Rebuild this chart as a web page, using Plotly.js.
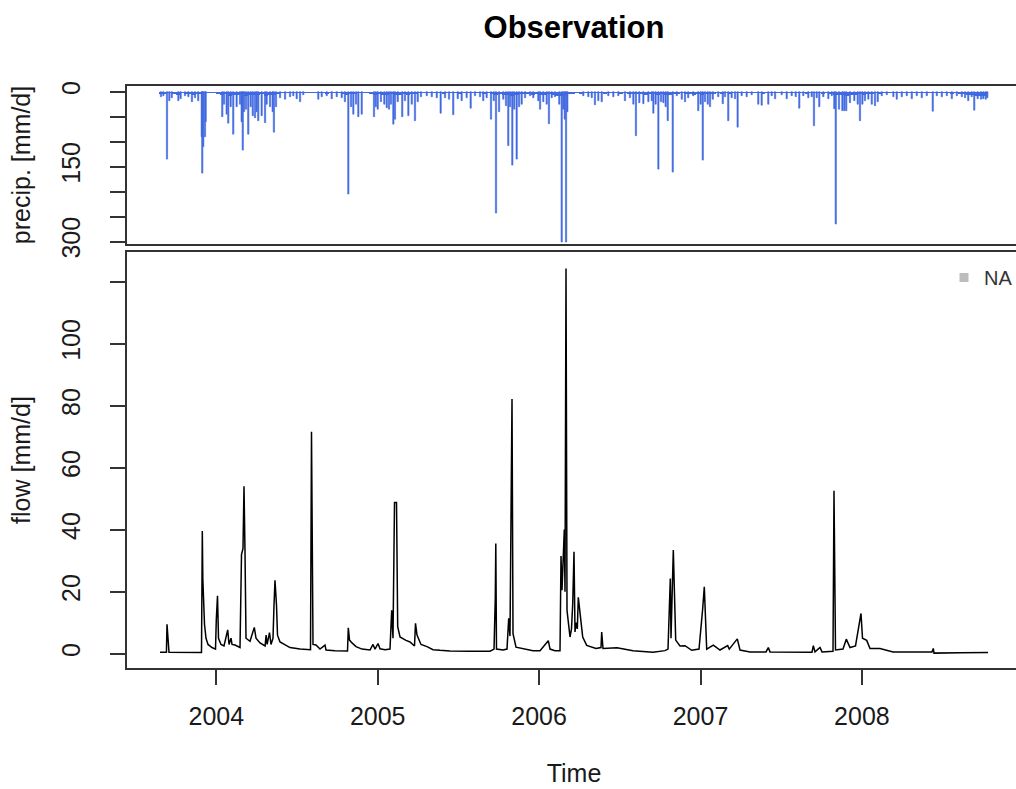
<!DOCTYPE html>
<html>
<head>
<meta charset="utf-8">
<script src="https://cdn.plot.ly/plotly-3.0.1.min.js"></script>
<style>
  html, body { margin: 0; padding: 0; overflow: hidden; background: #fff; }
  #chart { width: 1024px; height: 789px; }
</style>
</head>
<body>
<div id="chart"></div>
<script>
// ---- Data (time in decimal years, as in an R ts plot) ----
// Larger daily precipitation events [mm/d]
const precipTime = [
  2003.657, 2003.672, 2003.6945, 2003.709, 2003.724, 2003.765, 2003.779, 2003.806, 2003.827, 2003.849,
  2003.868, 2003.888, 2003.910, 2003.913, 2003.919, 2003.930, 2003.934, 2004.037, 2004.048, 2004.064,
  2004.074, 2004.089, 2004.105, 2004.126, 2004.147, 2004.157, 2004.164, 2004.172, 2004.184, 2004.198,
  2004.213, 2004.226, 2004.240, 2004.250, 2004.260, 2004.281, 2004.302, 2004.312, 2004.333, 2004.349,
  2004.357, 2004.370, 2004.395, 2004.426, 2004.457, 2004.477, 2004.498, 2004.519, 2004.539, 2004.632,
  2004.653, 2004.684, 2004.715, 2004.746, 2004.777, 2004.797, 2004.818, 2004.835, 2004.849, 2004.866,
  2004.880, 2004.901, 2004.977, 2004.988, 2005.000, 2005.020, 2005.041, 2005.056, 2005.070, 2005.082,
  2005.097, 2005.107, 2005.124, 2005.152, 2005.169, 2005.190, 2005.211, 2005.231, 2005.248, 2005.268,
  2005.304, 2005.335, 2005.366, 2005.390, 2005.417, 2005.442, 2005.468, 2005.496, 2005.520, 2005.551,
  2005.576, 2005.603, 2005.634, 2005.654, 2005.675, 2005.702, 2005.719, 2005.733, 2005.752, 2005.778,
  2005.795, 2005.809, 2005.820, 2005.834, 2005.846, 2005.861, 2005.876, 2005.892, 2005.913, 2005.944,
  2005.964, 2005.995, 2006.006, 2006.026, 2006.047, 2006.061, 2006.078, 2006.098, 2006.125, 2006.140,
  2006.150, 2006.159, 2006.167, 2006.175, 2006.274, 2006.305, 2006.326, 2006.346, 2006.367, 2006.388,
  2006.429, 2006.460, 2006.491, 2006.532, 2006.563, 2006.584, 2006.600, 2006.621, 2006.646, 2006.677,
  2006.698, 2006.708, 2006.722, 2006.739, 2006.755, 2006.770, 2006.784, 2006.797, 2006.828, 2006.853,
  2006.884, 2006.904, 2006.924, 2006.955, 2006.986, 2007.001, 2007.014, 2007.028, 2007.045, 2007.059,
  2007.076, 2007.110, 2007.138, 2007.152, 2007.172, 2007.193, 2007.214, 2007.230, 2007.255, 2007.286,
  2007.317, 2007.358, 2007.379, 2007.420, 2007.441, 2007.462, 2007.503, 2007.534, 2007.565, 2007.590,
  2007.612, 2007.637, 2007.668, 2007.689, 2007.703, 2007.720, 2007.736, 2007.761, 2007.792, 2007.813,
  2007.829, 2007.838, 2007.858, 2007.879, 2007.891, 2007.903, 2007.926, 2007.953, 2007.974, 2007.988,
  2008.003, 2008.019, 2008.040, 2008.061, 2008.081, 2008.098, 2008.123, 2008.154, 2008.195, 2008.216,
  2008.247, 2008.278, 2008.309, 2008.340, 2008.371, 2008.402, 2008.439, 2008.464, 2008.495, 2008.526,
  2008.557, 2008.588, 2008.619, 2008.639, 2008.659, 2008.680, 2008.696, 2008.717, 2008.738, 2008.752,
  2008.767, 2008.777
];
const precipMm = [
  10, 8, 135, 18, 12, 18, 14, 8, 10, 20,
  12, 18, 90, 163, 110, 90, 60, 50, 25, 45,
  63, 30, 85, 30, 25, 60, 117, 40, 35, 85,
  30, 48, 52, 40, 58, 48, 62, 25, 30, 40,
  81, 30, 12, 15, 10, 8, 14, 20, 6, 15,
  10, 8, 14, 10, 12, 20, 205, 30, 45, 25,
  50, 45, 50, 30, 35, 20, 25, 32, 35, 25,
  65, 55, 20, 50, 18, 48, 25, 58, 20, 10,
  8, 10, 12, 43, 12, 15, 46, 14, 18, 12,
  33, 8, 10, 18, 12, 55, 18, 243, 40, 15,
  28, 108, 30, 147, 35, 135, 30, 25, 12, 8,
  12, 18, 35, 20, 25, 64, 12, 10, 25, 301,
  35, 55, 301, 40, 8, 10, 12, 26, 18, 20,
  8, 10, 8, 18, 12, 25, 88, 22, 24, 20,
  18, 43, 25, 155, 20, 22, 30, 58, 161, 8,
  15, 20, 12, 8, 38, 25, 137, 20, 25, 30,
  15, 10, 24, 10, 58, 12, 14, 71, 8, 10,
  6, 25, 27, 25, 8, 14, 6, 14, 8, 10,
  33, 8, 12, 10, 68, 12, 30, 10, 14, 8,
  34, 265, 35, 38, 38, 38, 22, 18, 25, 58,
  25, 18, 15, 25, 28, 20, 8, 6, 10, 15,
  10, 8, 14, 8, 12, 8, 39, 8, 10, 8,
  14, 8, 10, 12, 18, 10, 37, 14, 15, 14,
  15, 12
];
// Light daily rain forming the band along the zero line (regular series)
const drizzleStart = 2003.66;
const drizzleStep = 0.025;
const drizzleMm = [
  4, 5, 3, 4, 6, 3, 4, 5, 6, 4, 5,
  2, 2, 3, 4,
  6, 5, 8, 6, 7, 5, 8, 6, 7, 6, 5, 8, 7, 6, 4, 3,
  2, 3, 2, 3, 2, 2, 3, 2,
  3, 2, 4, 3, 2, 3, 5, 6, 5, 4, 3, 2, 3, 4,
  6, 5, 6, 7, 5, 6, 7, 5, 6, 5, 4, 3,
  3, 2, 3, 2, 3, 4, 3, 2, 3, 4, 3, 2, 3, 2, 3, 4, 3, 5,
  6, 5, 7, 6, 8, 6, 5, 4, 5, 6, 5, 6, 7, 5, 6, 8, 9, 7, 5, 4,
  3, 4, 3, 2, 3, 2, 3, 4, 3, 2, 3, 4, 3, 4, 5, 4,
  5, 6, 5, 4, 6, 5, 7, 6, 5, 4, 3, 4, 5, 6, 5, 6, 5, 4,
  4, 3, 4, 3, 4, 3, 2, 3, 2, 3, 2, 3, 4, 3,
  3, 2, 3, 2, 3, 2, 3, 2, 3, 4, 3, 2, 3, 4, 3, 4,
  6, 7, 6, 8, 6, 7, 5, 6, 5, 4, 3, 4, 3, 2,
  3, 2, 3, 2, 3, 2, 3, 2, 3, 2, 3, 2, 3, 2, 3, 4, 3, 4, 5, 6, 7, 8, 8, 8
];

const flowTime = [
  2003.651, 2003.691, 2003.6945, 2003.7007, 2003.7069, 2003.9083, 2003.9133, 2003.9164, 2003.9207, 2003.9269,
  2003.9362, 2003.9486, 2003.9734, 2003.9950, 2004.0000, 2004.0074, 2004.0136, 2004.0291, 2004.0477, 2004.0706,
  2004.0787, 2004.0911, 2004.0973, 2004.1159, 2004.1468, 2004.1561, 2004.1654, 2004.1716, 2004.1778, 2004.1840,
  2004.2088, 2004.2354, 2004.2460, 2004.2708, 2004.3023, 2004.3085, 2004.3147, 2004.3296, 2004.3389, 2004.3513,
  2004.3575, 2004.3637, 2004.3730, 2004.3792, 2004.3947, 2004.4567, 2004.5186, 2004.5682, 2004.5837, 2004.5898,
  2004.5948, 2004.5991, 2004.6177, 2004.6425, 2004.6735, 2004.6797, 2004.7354, 2004.8129, 2004.8178, 2004.8253,
  2004.8408, 2004.8656, 2004.9027, 2004.9523, 2004.9709, 2004.9833, 2005.0019, 2005.0143, 2005.0453, 2005.0762,
  2005.0868, 2005.0948, 2005.1041, 2005.1165, 2005.1239, 2005.1382, 2005.1754, 2005.2001, 2005.2280, 2005.2342,
  2005.2435, 2005.2683, 2005.3055, 2005.3427, 2005.3860, 2005.4480, 2005.5719, 2005.6959, 2005.7207, 2005.7286,
  2005.7317, 2005.7360, 2005.7763, 2005.8011, 2005.8116, 2005.8197, 2005.8321, 2005.8383, 2005.8569, 2005.9126,
  2005.9622, 2006.0056, 2006.0570, 2006.0676, 2006.0985, 2006.1295, 2006.1357, 2006.1419, 2006.1561, 2006.1605,
  2006.1667, 2006.1729, 2006.1915, 2006.2007, 2006.2082, 2006.2162, 2006.2224, 2006.2286, 2006.2367, 2006.2429,
  2006.2534, 2006.2701, 2006.2949, 2006.3525, 2006.3835, 2006.3878, 2006.3959, 2006.4393, 2006.4827, 2006.5818,
  2006.7057, 2006.7800, 2006.7986, 2006.8129, 2006.8172, 2006.8315, 2006.8463, 2006.8730, 2006.9040, 2006.9455,
  2006.9907, 2007.0136, 2007.0235, 2007.0384, 2007.0793, 2007.1208, 2007.1685, 2007.1780, 2007.2280, 2007.2447,
  2007.3067, 2007.4058, 2007.4201, 2007.4306, 2007.5545, 2007.6908, 2007.6989, 2007.7094, 2007.7404, 2007.7528,
  2007.8209, 2007.8271, 2007.8364, 2007.8829, 2007.9033, 2007.9262, 2007.9603, 2007.9777, 2007.9944, 2008.0037,
  2008.0297, 2008.0502, 2008.1121, 2008.1927, 2008.4343, 2008.4424, 2008.4467, 2008.6078, 2008.7819
];
const flowMm = [
  0.45, 0.45, 9.5, 5, 0.5, 0.4, 39.6, 24.3, 18.7, 9.5,
  5, 3, 2, 1.5, 11, 18.7, 5, 3, 2.5, 7.7,
  3, 5, 3, 2.8, 2, 32, 34, 54, 33, 5,
  4, 8.5, 5, 3.5, 2.5, 6, 3, 6.8, 3, 5,
  15.6, 23.7, 15.6, 6, 3.8, 2, 1.5, 1.2, 1.3, 71.6,
  39.4, 3, 2.8, 1.5, 2.8, 1.2, 1.0, 0.9, 8.4, 4.4,
  3.5, 2.3, 1.5, 1.2, 3, 1.5, 3.3, 1.6, 1.3, 1.5,
  14, 5, 48.8, 48.8, 8.7, 5.4, 4.3, 3.8, 2.5, 9.8,
  6, 3, 2.3, 1.3, 1.1, 0.9, 0.8, 0.8, 1.5, 18.2,
  35.6, 1.5, 1.2, 1.5, 11.4, 5.7, 82.2, 6.5, 2.1, 1.5,
  1.0, 1.0, 4.2, 1.5, 1.0, 1.0, 31.5, 20.5, 40.1, 20,
  124.3, 14, 5.4, 8, 16, 32.9, 7, 10, 8, 18.2,
  13.3, 5.4, 2.7, 1.7, 2, 7.0, 1.7, 1.7, 1.9, 1.0,
  0.5, 1.0, 1.5, 24.3, 5, 33.5, 4.4, 2.5, 2.6, 1.1,
  1.5, 14.6, 21.6, 1.5, 2.8, 1.2, 2.6, 1.5, 4.8, 1.2,
  0.6, 0.6, 2.0, 0.6, 0.5, 0.5, 2.6, 0.6, 2.0, 0.6,
  0.8, 52.6, 1.2, 1.5, 4.7, 2.0, 2.5, 7.5, 13, 5,
  4.3, 1.7, 1.7, 0.6, 0.6, 1.7, 0.2, 0.3, 0.4
];

const yearTicks = [2004, 2005, 2006, 2007, 2008];
const precipTicks = [0, 50, 100, 150, 200, 250, 300];
const precipTickText = ['0', '', '', '150', '', '', '300'];
const flowTicks = [0, 20, 40, 60, 80, 100, 120];
const flowTickText = ['0', '20', '40', '60', '80', '100', ''];
const legendLabel = 'NA';

// ---- Chart ----
const FONT = 'Liberation Sans, Arial, sans-serif';
const AX = '#333333';
const TXT = '#1a1a1a';
const BLUE = '#4169E1';

const drizzleTime = drizzleMm.map((_, i) => drizzleStart + i * drizzleStep);

const drizzleTrace = {
  type: 'bar',
  x: drizzleTime,
  y: drizzleMm,
  width: drizzleStep,
  marker: { color: BLUE, line: { width: 0 } },
  xaxis: 'x2', yaxis: 'y2',
  showlegend: false,
  hoverinfo: 'skip'
};

const precipTrace = {
  type: 'bar',
  x: precipTime,
  y: precipMm,
  width: 0.008,
  marker: { color: BLUE, line: { color: BLUE, width: 0.6 } },
  xaxis: 'x2', yaxis: 'y2',
  showlegend: false,
  hoverinfo: 'skip'
};

const flowTrace = {
  type: 'scatter',
  mode: 'lines',
  x: flowTime,
  y: flowMm,
  line: { color: '#000000', width: 1.5 },
  xaxis: 'x', yaxis: 'y',
  showlegend: false,
  hoverinfo: 'skip'
};

const naTrace = {
  type: 'scatter',
  mode: 'markers',
  x: [null],
  y: [null],
  name: legendLabel,
  marker: { symbol: 'square', size: 9, color: '#bdbdbd' },
  xaxis: 'x', yaxis: 'y',
  showlegend: true
};

const xRange = [2003.4467, 2008.9857];

const commonAxis = {
  showline: true, mirror: true, linecolor: AX, linewidth: 2,
  showgrid: false, zeroline: false,
  ticks: 'outside', ticklen: 15, tickwidth: 2, tickcolor: AX,
  tickfont: { family: FONT, size: 25, color: TXT }
};

const layout = {
  width: 1024, height: 789,
  margin: { l: 127, r: 3, t: 86, b: 121 },
  paper_bgcolor: '#ffffff', plot_bgcolor: '#ffffff',
  font: { family: FONT, color: TXT },
  title: {
    text: '<b>Observation</b>',
    font: { family: FONT, size: 31, color: '#000' },
    x: 0.5, xref: 'paper', xanchor: 'center',
    y: 1 - 27 / 789, yref: 'container', yanchor: 'middle'
  },
  barmode: 'overlay',
  bargap: 0,
  showlegend: true,
  legend: {
    x: (944 - 127) / 894, y: (668 - 258) / 582,
    xanchor: 'left', yanchor: 'top',
    bgcolor: 'rgba(0,0,0,0)', borderwidth: 0,
    font: { family: FONT, size: 20, color: '#333' }
  },
  xaxis: Object.assign({}, commonAxis, {
    domain: [0, 1], anchor: 'y',
    range: xRange,
    tickmode: 'array', tickvals: yearTicks, ticktext: yearTicks.map(String),
    ticklabelstandoff: 10,
    title: { text: 'Time', font: { family: FONT, size: 25, color: TXT }, standoff: 35 }
  }),
  yaxis: Object.assign({}, commonAxis, {
    domain: [0, (668 - 252) / 582], anchor: 'x',
    range: [-4.6, 129.6],
    tickmode: 'array', tickvals: flowTicks, ticktext: flowTickText,
    tickangle: -90, ticklabelstandoff: 20,
    title: { text: 'flow [mm/d]', font: { family: FONT, size: 25, color: TXT }, standoff: 19 }
  }),
  xaxis2: Object.assign({}, commonAxis, {
    domain: [0, 1], anchor: 'y2', matches: 'x',
    range: xRange,
    ticks: '', showticklabels: false
  }),
  yaxis2: Object.assign({}, commonAxis, {
    domain: [(668 - 244) / 582, 1], anchor: 'x2',
    range: [305, -11.4],
    tickmode: 'array', tickvals: precipTicks, ticktext: precipTickText,
    tickangle: -90, ticklabelstandoff: 20,
    title: { text: 'precip. [mm/d]', font: { family: FONT, size: 25, color: TXT }, standoff: 19 }
  })
};

Plotly.newPlot('chart', [drizzleTrace, precipTrace, flowTrace, naTrace], layout, { staticPlot: true, displayModeBar: false });
</script>
</body>
</html>
